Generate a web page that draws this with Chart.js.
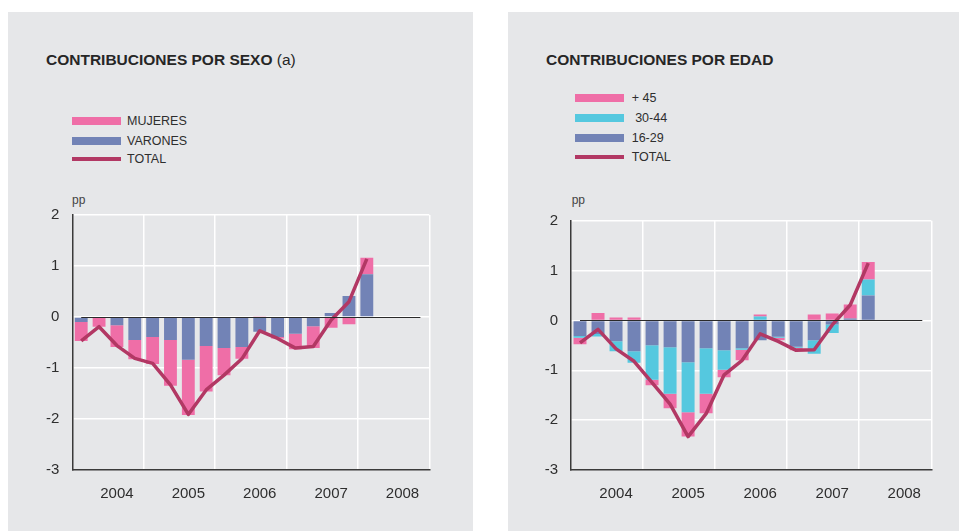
<!DOCTYPE html>
<html>
<head>
<meta charset="utf-8">
<script src="https://cdn.jsdelivr.net/npm/chart.js@4.4.1/dist/chart.umd.min.js"></script>
<style>
  body { margin: 0; width: 959px; height: 531px; background: #fff; position: relative; overflow: hidden;
         font-family: 'Liberation Sans', Arial, sans-serif; color: #2e2e2e; }
  .panel { position: absolute; top: 12px; height: 519px; background: #e6e7e9; }
  #pLeft  { left: 8px;   width: 465px; }
  #pRight { left: 508px; width: 451px; }
  .title { position: absolute; top: 39px; left: 38px; font-size: 15.5px; line-height: 18px; font-weight: bold; white-space: nowrap; color: #262626; }
  .title span { font-weight: normal; }
  .leg { position: absolute; font-size: 12.5px; line-height: 14px; white-space: nowrap; }
  .sw { position: absolute; width: 49px; }
  .pp { position: absolute; font-size: 12px; line-height: 14px; color: #444; }
  canvas { position: absolute; }
</style>
</head>
<body>
<div class="panel" id="pLeft">
  <div class="title">CONTRIBUCIONES POR SEXO <span>(a)</span></div>
  <div class="sw" style="left:64px;top:104.7px;height:8px;background:#ef6ea7"></div>
  <div class="leg" style="left:119px;top:101.7px">MUJERES</div>
  <div class="sw" style="left:64px;top:125.3px;height:8px;background:#7283b6"></div>
  <div class="leg" style="left:119px;top:122.3px">VARONES</div>
  <div class="sw" style="left:64px;top:145px;height:4px;background:#b23864"></div>
  <div class="leg" style="left:119px;top:140px">TOTAL</div>
  <div class="pp" style="left:64px;top:181px">pp</div>
  <canvas id="chartSexo" width="420" height="305" style="left:12px;top:193px;width:420px;height:305px"></canvas>
</div>
<div class="panel" id="pRight">
  <div class="title">CONTRIBUCIONES POR EDAD</div>
  <div class="sw" style="left:67px;top:82.3px;height:8px;background:#ef6ea7"></div>
  <div class="leg" style="left:123.7px;top:79.3px">+ 45</div>
  <div class="sw" style="left:67px;top:102.3px;height:8px;background:#55c8df"></div>
  <div class="leg" style="left:123.7px;top:99.3px">&nbsp;30-44</div>
  <div class="sw" style="left:67px;top:122.3px;height:8px;background:#7283b6"></div>
  <div class="leg" style="left:123.7px;top:119.3px">16-29</div>
  <div class="sw" style="left:67px;top:142.7px;height:4px;background:#b23864"></div>
  <div class="leg" style="left:123.7px;top:137.7px">TOTAL</div>
  <div class="pp" style="left:63.7px;top:181px">pp</div>
  <canvas id="chartEdad" width="425" height="305" style="left:12px;top:193px;width:425px;height:305px"></canvas>
</div>

<script>
/* ─── DATA ─── */
const YEARS = ['2004', '2005', '2006', '2007', '2008'];
const QUARTERS = ['I', 'II', 'III', 'IV'];

// contributions by sex, 2004 I – 2008 I (pp)
const VARONES = [-0.10, -0.02, -0.16, -0.45, -0.39, -0.45, -0.84, -0.57, -0.61, -0.59, -0.29, -0.39, -0.33, -0.18, 0.08, 0.41, 0.84];
const MUJERES = [-0.37, -0.17, -0.43, -0.38, -0.53, -0.90, -1.08, -0.89, -0.53, -0.23, 0.02, -0.03, -0.30, -0.43, -0.21, -0.14, 0.32];
const TOTAL_SEXO = [-0.47, -0.19, -0.56, -0.81, -0.91, -1.33, -1.91, -1.43, -1.14, -0.82, -0.27, -0.42, -0.61, -0.58, -0.06, 0.30, 1.14];

// contributions by age, 2004 I – 2008 I (pp)
const EDAD_16_29 = [-0.31, -0.27, -0.42, -0.62, -0.50, -0.54, -0.84, -0.56, -0.60, -0.56, -0.40, -0.33, -0.53, -0.40, -0.08, 0.04, 0.50];
const EDAD_30_44 = [-0.04, -0.05, -0.20, -0.23, -0.69, -0.93, -1.00, -0.91, -0.39, -0.03, 0.08, -0.02, -0.02, -0.27, -0.17, 0.00, 0.32];
const EDAD_45    = [-0.13, 0.15, 0.06, 0.06, -0.11, -0.29, -0.49, -0.39, -0.15, -0.21, 0.04, -0.05, -0.05, 0.12, 0.14, 0.28, 0.35];
const TOTAL_EDAD = [-0.45, -0.18, -0.57, -0.82, -1.25, -1.68, -2.33, -1.87, -1.09, -0.80, -0.27, -0.42, -0.60, -0.59, -0.09, 0.31, 1.15];

const Y_MIN = -3, Y_MAX = 2;

/* ─── STYLE ─── */
const COLORS = {
  pink:  '#ef6ea7',
  blue:  '#7283b6',
  cyan:  '#55c8df',
  total: '#b23864',
  axis:  '#3a3a3a',
  text:  '#2e2e2e',
};
const FONT = "'Liberation Sans', Arial, sans-serif";

const LABELS = [];
YEARS.forEach(y => QUARTERS.forEach(q => LABELS.push(`${y} ${q}`)));

// zero line drawn from the first to the last quarter slot
const zeroLine = {
  id: 'zeroLine',
  afterDatasetsDraw(chart) {
    const { ctx, scales: { x, y } } = chart;
    const py = Math.round(y.getPixelForValue(0)) + 0.5;
    ctx.save();
    ctx.strokeStyle = '#2a2a2a';
    ctx.lineWidth = 1;
    ctx.beginPath();
    ctx.moveTo(x.getPixelForValue(0), py);
    ctx.lineTo(x.getPixelForValue(LABELS.length - 1), py);
    ctx.stroke();
    ctx.restore();
  }
};

function barSet(label, data, color) {
  return { type: 'bar', label, data, backgroundColor: color, borderWidth: 0,
           stack: 'c', order: 2, barPercentage: 0.72, categoryPercentage: 1 };
}
function totalSet(data) {
  return { type: 'line', label: 'TOTAL', data, borderColor: COLORS.total, borderWidth: 3.5,
           pointRadius: 0, tension: 0, fill: false, stack: 't', order: 0, borderJoinStyle: 'round' };
}

function makeChart(canvasId, datasets, yWidth, pad) {
  return new Chart(document.getElementById(canvasId), {
    data: { labels: LABELS, datasets },
    plugins: [zeroLine],
    options: {
      responsive: false,
      animation: false,
      layout: { padding: pad },
      plugins: { legend: { display: false }, tooltip: { enabled: false } },
      scales: {
        x: {
          stacked: true,
          offset: true,
          grid: {
            offset: true,
            drawTicks: false,
            lineWidth: 1.5,
            // white lines only at year boundaries and the right edge
            color: (c) => (c.index === undefined || (c.index % 4 === 0 && c.index > 0)) ? '#ffffff' : 'rgba(0,0,0,0)',
          },
          border: { color: COLORS.axis, width: 1.5 },
          ticks: {
            autoSkip: false, maxRotation: 0, minRotation: 0, padding: 15,
            color: COLORS.text, font: { family: FONT, size: 15 },
            callback: (v, i) => i % 4 === 2 ? YEARS[Math.floor(i / 4)] : '',
          },
          afterFit: (s) => { s.height = 40; s.paddingTop = 0; s.paddingBottom = 0; },
        },
        y: {
          stacked: true,
          min: Y_MIN, max: Y_MAX,
          grid: {
            drawTicks: false,
            lineWidth: 1.5,
            color: (c) => c.tick && c.tick.value === Y_MIN ? 'rgba(0,0,0,0)' : '#ffffff',
          },
          border: { color: COLORS.axis, width: 1.5 },
          ticks: { stepSize: 1, padding: 13, color: COLORS.text, font: { family: FONT, size: 15 } },
          afterFit: (s) => { s.width = yWidth; s.paddingTop = 0; s.paddingBottom = 0; },
        },
      },
    },
  });
}

makeChart('chartSexo', [
  barSet('VARONES', VARONES, COLORS.blue),
  barSet('MUJERES', MUJERES, COLORS.pink),
  totalSet(TOTAL_SEXO),
], 52.3, { top: 10, right: 10.7, left: 0, bottom: 0 });

makeChart('chartEdad', [
  barSet('16-29', EDAD_16_29, COLORS.blue),
  barSet('30-44', EDAD_30_44, COLORS.cyan),
  barSet('+ 45', EDAD_45, COLORS.pink),
  totalSet(TOTAL_EDAD),
], 51, { top: 15.7, right: 13.7, left: 0, bottom: 0 });
</script>
</body>
</html>
